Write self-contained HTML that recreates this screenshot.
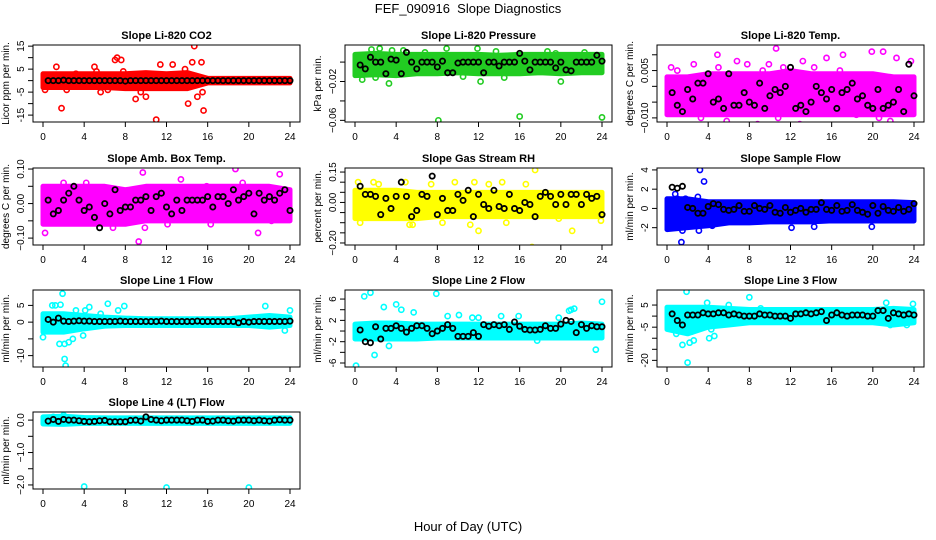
<!DOCTYPE html>
<html><head><meta charset="utf-8"><style>
body{margin:0;background:#fff;}
svg{display:block;font-family:"Liberation Sans",sans-serif;}
</style></head><body>
<svg id="chart" width="936" height="540" viewBox="0 0 936 540">
<text x="468" y="13" text-anchor="middle" font-size="13">FEF_090916&#160; Slope Diagnostics</text>
<text x="468" y="531" text-anchor="middle" font-size="13">Hour of Day (UTC)</text>
</svg>
<script>
// ---- shared categories ----
const bandHours=[0,2,4,6,8,10,12,14,16,18,20,22,24];
const xTicks=[0,4,8,12,16,20,24];

// ---- CO2 ----
const co2Low=[-3,-3,-3,-3,-3.5,-3.5,-3.5,-3.5,-1,-1,-1,-1,-1];
const co2High=[3,3,3,3,3,3.5,3,3.5,1,1,1,1,1];
const co2PtsX=[0.2,1.3,1.8,5,5.2,5.6,7,7.2,7.6,7.8,9,9.5,10,11,11.4,12.6,14.1,14.5,14.7,15,15.4,15.5,15.6,13.8,3.2,6.3,2.3];
const co2PtsY=[-4,6,-12,6,4,-5,9,10,9,4,-8,-5,-7,-17,7,7,-10,8,15,-7,8,-5,-13,5,3,-4,-4];
const co2Mean=[0,0,0,0.2,0,0,0,0,0,0,0,0,0,0,0,-0.2,0,0,0,0,0,0,0,0,0,0,0,0,0,0,0,0,0,0,0,0,0,0,0,0,0,0,0,0,0,0,0,0];

// ---- Pressure ----
const prLow=[-0.014,-0.013,-0.014,-0.012,-0.012,-0.011,-0.012,-0.012,-0.012,-0.011,-0.012,-0.011,-0.011];
const prHigh=[0.008,0.009,0.008,0.008,0.008,0.008,0.008,0.007,0.008,0.008,0.008,0.008,0.008];
const prPtsX=[0.7,1.6,2.4,3.3,3.6,4.7,6.8,8.1,8.9,11.9,12.2,13.7,16,18.7,19.5,20,22.3,24,2,10.5,14.5];
const prPtsY=[-0.018,0.013,0.014,-0.022,0.012,0.012,0.01,-0.060,0.014,0.014,-0.020,0.011,-0.056,0.011,0.009,-0.020,0.01,-0.057,-0.016,-0.015,-0.016];
const prMean=[-0.003,-0.007,0.005,0,0,-0.012,0.003,0.002,-0.012,0.01,0,-0.007,0,0,0,-0.005,0.001,-0.011,-0.011,-0.001,0,0,0,0,-0.011,0,0,-0.004,0,0,0,0.009,0.001,-0.008,0,0,0,0,-0.006,0,-0.008,-0.009,0,0,0,0,0.007,0.001];

// ---- Li-820 Temp ----
const tpLow=[-0.009,-0.009,-0.009,-0.009,-0.009,-0.009,-0.009,-0.009,-0.009,-0.009,-0.009,-0.009,-0.009];
const tpHigh=[0.003,0.003,0.004,0.004,0.004,0.004,0.005,0.004,0.004,0.004,0.004,0.003,0.003];
const tpPtsX=[0.4,2.6,3.3,4.9,5.8,6.8,7.8,8.8,9.9,10.6,10.8,12.9,13.2,14.3,15.5,17.1,18.4,19.9,20.6,21,21.7,22.3,23.7,1,5,9.3,11.3,16.8];
const tpPtsY=[0.006,0.007,-0.01,0.010,-0.011,0.008,0.007,-0.012,0.007,0.012,-0.01,-0.012,0.008,0.006,0.009,0.010,-0.009,0.011,-0.01,0.011,-0.011,0.009,0.008,0.005,0.006,0.005,0.006,0.005];
const tpMean=[-0.002,-0.006,-0.008,-0.001,-0.004,0.001,0.001,0.004,-0.005,-0.004,-0.007,0.004,-0.006,-0.006,-0.002,-0.005,-0.006,0.001,-0.007,-0.003,-0.001,-0.002,0,0.006,-0.007,-0.006,-0.008,-0.005,0.000,-0.002,-0.004,-0.001,-0.007,-0.002,-0.001,0.001,-0.004,-0.003,-0.006,-0.007,-0.001,-0.007,-0.006,-0.005,-0.001,-0.008,0.007,-0.003];

// ---- Amb Box Temp ----
const abLow=[-0.06,-0.06,-0.06,-0.06,-0.06,-0.05,-0.05,-0.05,-0.05,-0.05,-0.05,-0.05,-0.05];
const abHigh=[0.05,0.05,0.05,0.05,0.04,0.05,0.05,0.05,0.05,0.05,0.05,0.05,0.04];
const abPtsX=[0.2,1.7,2,4.2,6.3,6.8,9.7,9.3,9.9,12.1,13.4,15.9,16.3,18.7,19.4,20.9,22.2,23,3.3,7.4];
const abPtsY=[-0.085,-0.05,0.06,0.06,-0.05,-0.07,0.09,-0.11,-0.07,-0.06,0.07,0.05,-0.06,0.10,0.06,-0.085,-0.05,0.085,-0.05,-0.05];
const abMean=[0.01,-0.03,-0.02,0.01,0.03,0.05,0.01,-0.02,-0.01,-0.04,-0.07,0.00,-0.03,0.04,-0.02,-0.01,-0.01,0.01,0.01,0.02,-0.02,0.02,0.03,-0.01,-0.03,0.01,-0.02,0.01,0.01,0.01,0.01,0.02,-0.01,0.02,0.02,0.00,0.04,0.01,0.02,0.03,-0.03,0.03,0.01,0.02,0.01,0.03,0.04,-0.02];

// ---- Gas Stream RH ----
const rhLow=[-0.08,-0.08,-0.08,-0.08,-0.07,-0.07,-0.07,-0.07,-0.07,-0.07,-0.07,-0.07,-0.07];
const rhHigh=[0.06,0.06,0.06,0.05,0.05,0.05,0.05,0.05,0.05,0.05,0.05,0.05,0.05];
const rhPtsX=[0.3,0.5,1.8,4.9,5.3,5.6,7.4,9.7,11.2,11.6,12,13,14.3,14.7,16.6,17.2,17.5,19.8,21.1,23.9,8.5,2.3];
const rhPtsY=[0.1,-0.1,0.1,0.1,-0.11,-0.11,0.09,0.1,-0.11,0.1,-0.14,0.09,0.1,-0.1,0.09,-0.22,0.16,-0.08,-0.14,-0.09,-0.1,0.09];
const rhMean=[0.08,0.04,0.04,0.03,-0.06,0.02,-0.03,0.03,0.1,0.03,-0.07,-0.04,0.04,0.03,0.13,-0.06,0.02,-0.04,-0.04,0.04,0.01,0.06,-0.07,0.04,-0.01,-0.03,0.06,-0.02,-0.03,0.04,-0.03,-0.04,0.00,-0.01,-0.07,0.03,0.05,0.03,-0.01,0.04,-0.01,0.04,0.04,-0.01,0.04,0.02,0.03,-0.06];

// ---- Sample Flow ----
const sfLow=[-2.2,-2,-1.8,-1.5,-1.5,-1.4,-1.4,-1.4,-1.3,-1.3,-1.3,-1.3,-1.3];
const sfHigh=[1,1,0.7,0.7,0.7,0.7,0.7,0.7,0.7,0.7,0.7,0.7,0.6];
const sfPtsX=[0.3,0.8,1,1.5,1.8,2.5,3,3.2,3.6,1.4,3.1,12.1,14.3,19.9,4.4,5.2,2.3,0.2];
const sfPtsY=[-1.8,1.5,1.0,-2.3,1.0,-1.6,1.2,4.0,2.8,-3.5,-2.3,-2.0,-1.9,-1.9,-1.8,0.5,-1.8,-1.9];
const sfMean=[2.2,2.1,2.3,0.1,0.0,-0.5,-0.5,0.2,0.5,0.4,-0.1,-0.2,-0.1,0.3,-0.3,-0.3,0.3,0.0,-0.1,0.3,-0.4,-0.5,0.1,-0.4,-0.2,0.0,-0.4,-0.1,-0.1,0.6,-0.1,-0.2,0.3,-0.3,-0.2,0.4,-0.2,-0.4,-0.6,0.3,-0.5,0.2,-0.2,-0.3,0.1,-0.3,-0.1,0.5];

// ---- Line 1 Flow ----
const l1Low=[-3,-3,-2,-1.2,-1,-1,-1,-1,-1,-1,-1,-1.5,-1];
const l1High=[2.5,2.5,2,1.5,1.2,1,1,1,1,1,1.5,2,1.5];
const l1PtsX=[0,0.9,1.2,1.7,1.9,2.1,2.2,2.5,2.9,3.2,3.9,4.5,5.6,6.3,7.3,7.9,21.6,23.5,24,2.1,4.1,1.6];
const l1PtsY=[-4.5,5,5,5.2,8.5,-11,-13,-6,-5,3.5,-4,4.5,2.5,5.5,3.5,4.8,4.8,-2.5,3.5,-6.5,3.5,-6.5];
const l1Mean=[0.8,0,1.2,0.3,0.2,0.3,0.4,0.3,0.3,0.2,0.2,0.2,0.2,0.2,0.3,0.2,0.2,0.2,0.2,0.2,0.2,0.2,0.3,0.2,0.2,0.2,0.2,0.2,0.2,0.3,0.2,0.2,0.2,0.2,0.2,0.2,0.2,-0.2,0.2,0,0.2,0.2,0.2,0.2,0.2,0.2,0.2,0.3];

// ---- Line 2 Flow ----
const l2Low=[-1.5,-1.5,-1.5,-1.5,-1.3,-1.3,-1.3,-1.3,-1.3,-1.3,-1.3,-1.3,-1.3];
const l2High=[1.3,1.5,1.5,1.3,1.3,1.3,1.3,1.3,1.3,1.3,1.3,1.5,1.3];
const l2PtsX=[0.1,0.9,1.5,1.9,2.8,4,4.5,5.7,7.9,3.3,9,10.1,11.4,12,14.2,15.9,19.8,20.8,21,21.3,23.4,24,17.7];
const l2PtsY=[-6.5,6.5,7.2,-4.5,4.5,5,4,3.5,7,-2.8,2.8,3,2.5,2.5,2.8,2.8,2.5,3.8,4,4.2,-3.5,5.5,-1.8];
const l2Mean=[0.2,-2,-2.2,0.8,-1.5,0.5,0.5,1,0.5,-0.2,0.5,1,1,0.5,-0.5,0,0.5,1.2,0.5,-1,-1,-1,-0.3,-1,1.2,0.9,1.2,1,1.2,0.3,1.7,0.9,0.3,0.2,0.2,0.3,1,0.5,0.5,1.3,2,1.8,-0.3,1.2,0.5,1,0.8,0.8];

// ---- Line 3 Flow ----
const l3Low=[-6,-8,-5,-4,-3,-3,-3,-3,-3,-3,-3,-4,-3];
const l3High=[4,4,4,3.5,3,3,3,3,3,3,3,3.5,3];
const l3PtsX=[0.5,0.9,1.1,1.5,1.9,2,2.2,2.4,2.6,3.9,4.3,4.6,4.1,8,6,9.1,21.3,23.9,21.7,23.3,2.5];
const l3PtsY=[-4,-8,-4,-13,11,-21,-12,-7,-11,6,-6,-9,-10,8.5,5,3.5,6,5.5,-4,-4,-6];
const l3Mean=[1,-2,-4,0.5,0.5,0.5,1.5,1,1,1.5,1.5,0.5,1,0.5,0,0,0,1,0.5,0.5,0,0,0,-1,1,1,1.5,1,1.5,2,-2,0.5,1.5,0.5,0,0.5,0.5,0.5,0,0,2.5,2.5,-1,1.5,1,0.5,1,0.5];

// ---- Line 4 Flow ----
const l4Low=[-0.12,-0.13,-0.1,-0.1,-0.1,-0.1,-0.1,-0.1,-0.1,-0.1,-0.1,-0.1,-0.1];
const l4High=[0.1,0.12,0.08,0.07,0.07,0.07,0.07,0.07,0.07,0.07,0.07,0.07,0.07];
const l4PtsX=[4,12,20,2,1];
const l4PtsY=[-2.05,-2.08,-2.08,0.15,0.1];
const l4Mean=[-0.03,0.02,-0.04,0.02,0,0,-0.02,-0.04,-0.05,-0.04,-0.02,-0.01,-0.05,-0.05,-0.05,-0.05,-0.01,0,-0.03,0.1,0.02,0,-0.02,0,0,0,0,-0.02,-0.04,0,0,-0.04,-0.03,0,0,-0.02,-0.03,0,0,0,-0.02,0,-0.02,-0.03,0,0.01,0,0];

const SVGNS="http://www.w3.org/2000/svg";
const svg=document.getElementById('chart');
function mk(tag,attrs,parent){const e=document.createElementNS(SVGNS,tag);for(const k in attrs)e.setAttribute(k,attrs[k]);(parent||svg).appendChild(e);return e;}

const colLeft=[33,345,657], rowTop=[45,168,290,412], W=267, H=77;

const panels=[
 {slug:'co2',title:'Slope Li-820 CO2',ylab:'Licor ppm per min.',color:'#ff0000',ymin:-18,ymax:15.5,ticks:[-15,-10,-5,0,5,10,15],labels:[-15,-5,5,15],lo:co2Low,hi:co2High,px:co2PtsX,py:co2PtsY,mean:co2Mean,c:0,r:0},
 {slug:'pressure',title:'Slope Li-820 Pressure',ylab:'kPa per min.',color:'#22cc22',ymin:-0.0617,ymax:0.0176,ticks:[-0.06,-0.04,-0.02,0],labels:[-0.06,-0.02],fmt:2,lo:prLow,hi:prHigh,px:prPtsX,py:prPtsY,mean:prMean,c:1,r:0},
 {slug:'li820-temp',title:'Slope Li-820 Temp.',ylab:'degrees C per min.',color:'#ff00ff',ymin:-0.0113,ymax:0.0131,ticks:[-0.01,-0.005,0,0.005,0.01],labels:[-0.01,0.005],fmt:3,lo:tpLow,hi:tpHigh,px:tpPtsX,py:tpPtsY,mean:tpMean,c:2,r:0},
 {slug:'amb-box-temp',title:'Slope Amb. Box Temp.',ylab:'degrees C per min.',color:'#ff00ff',ymin:-0.12,ymax:0.103,ticks:[-0.1,-0.05,0,0.05,0.1],labels:[-0.1,0,0.1],fmt:2,lo:abLow,hi:abHigh,px:abPtsX,py:abPtsY,mean:abMean,c:0,r:1},
 {slug:'gas-stream-rh',title:'Slope Gas Stream RH',ylab:'percent per min.',color:'#ffff00',ymin:-0.21,ymax:0.17,ticks:[-0.2,-0.15,-0.1,-0.05,0,0.05,0.1,0.15],labels:[-0.2,0,0.15],fmt:2,lo:rhLow,hi:rhHigh,px:rhPtsX,py:rhPtsY,mean:rhMean,c:1,r:1},
 {slug:'sample-flow',title:'Slope Sample Flow',ylab:'ml/min per min.',color:'#0000ff',ymin:-3.8,ymax:4.2,ticks:[-2,0,2,4],labels:[-2,0,2,4],lo:sfLow,hi:sfHigh,px:sfPtsX,py:sfPtsY,mean:sfMean,c:2,r:1},
 {slug:'line1-flow',title:'Slope Line 1 Flow',ylab:'ml/min per min.',color:'#00ffff',ymin:-13.4,ymax:9.6,ticks:[-10,-5,0,5],labels:[-10,0,5],lo:l1Low,hi:l1High,px:l1PtsX,py:l1PtsY,mean:l1Mean,c:0,r:2},
 {slug:'line2-flow',title:'Slope Line 2 Flow',ylab:'ml/min per min.',color:'#00ffff',ymin:-6.75,ymax:7.7,ticks:[-6,-4,-2,0,2,4,6],labels:[-6,-2,2,6],lo:l2Low,hi:l2High,px:l2PtsX,py:l2PtsY,mean:l2Mean,c:1,r:2},
 {slug:'line3-flow',title:'Slope Line 3 Flow',ylab:'ml/min per min.',color:'#00ffff',ymin:-23,ymax:11.8,ticks:[-20,-15,-10,-5,0,5],labels:[-20,-5,5],lo:l3Low,hi:l3High,px:l3PtsX,py:l3PtsY,mean:l3Mean,c:2,r:2},
 {slug:'line4-flow',title:'Slope Line 4 (LT) Flow',ylab:'ml/min per min.',color:'#00ffff',ymin:-2.125,ymax:0.25,ticks:[-2,-1.5,-1,-0.5,0],labels:[-2,-1,0],fmt:1,lo:l4Low,hi:l4High,px:l4PtsX,py:l4PtsY,mean:l4Mean,c:0,r:3}
];

function fmtNum(v,d){if(d===undefined)return String(v);let s=v.toFixed(d);if(v<0)s='\u2212'+(-v).toFixed(d);return s;}

panels.forEach(p=>{
 const L=colLeft[p.c],T=rowTop[p.r];
 const x0=L+10,x1=L+W-10;
 const xs=h=>x0+(x1-x0)*h/24;
 const ys=v=>T+H-(v-p.ymin)/(p.ymax-p.ymin)*H;
 const g=mk('g',{});
 
 
 const cid='clip-'+p.slug;
 const cp=mk('clipPath',{id:cid},g);mk('rect',{x:L,y:T,width:W,height:H},cp);
 const t=mk('text',{x:L+W/2,y:T-6,'text-anchor':'middle','font-size':'11','font-weight':'bold'},g);t.textContent=p.title;
 
 
 const data=mk('g',{'clip-path':'url(#'+cid+')'},g);
 let d='';
 bandHours.forEach((h,i)=>{d+=(i?'L':'M')+xs(h)+','+ys(p.hi[i]);});
 for(let i=bandHours.length-1;i>=0;i--)d+='L'+xs(bandHours[i])+','+ys(p.lo[i]);
 const band=mk('path',{d:d+'Z',fill:p.color,stroke:p.color,'stroke-width':'5','stroke-linejoin':'round'},data);
 
 
 p.px.forEach((h,i)=>{
  const c=mk('circle',{cx:xs(h),cy:ys(p.py[i]),r:2.6,fill:'none',stroke:p.color,'stroke-width':'1.6'},data);
  
  
 });
 p.mean.forEach((v,i)=>{
  const h=(i+1)*0.5;
  const c=mk('circle',{cx:xs(h),cy:ys(v),r:2.6,fill:'none',stroke:'#000','stroke-width':'1.8'},data);
  
  
 });
 const box=mk('rect',{x:L,y:T,width:W,height:H,fill:'none',stroke:'#000','stroke-width':'1'},g);
 
 
 mk('line',{x1:xs(0),x2:xs(24),y1:T+H,y2:T+H,stroke:'#000'},g);
 xTicks.forEach(h=>{
  mk('line',{x1:xs(h),x2:xs(h),y1:T+H,y2:T+H+5,stroke:'#000'},g);
  const tl=mk('text',{x:xs(h),y:T+H+18,'text-anchor':'middle','font-size':'10'},g);tl.textContent=h;
  
  
 });
 p.ticks.forEach(v=>{mk('line',{x1:L-5,x2:L,y1:ys(v),y2:ys(v),stroke:'#000'},g);});
 p.labels.forEach(v=>{
  const yy=ys(v),xx=L-9;
  const tl=mk('text',{x:xx,y:yy,'text-anchor':'middle','font-size':'10',transform:'rotate(-90 '+xx+' '+yy+')'},g);
  tl.textContent=fmtNum(v,p.fmt);
  
  
 });
 const yx=L-24,yy=T+H/2;
 const yl=mk('text',{x:yx,y:yy,'text-anchor':'middle','font-size':'10',transform:'rotate(-90 '+yx+' '+yy+')'},g);
 yl.textContent=p.ylab;
 
 
});
</script>
</body></html>
